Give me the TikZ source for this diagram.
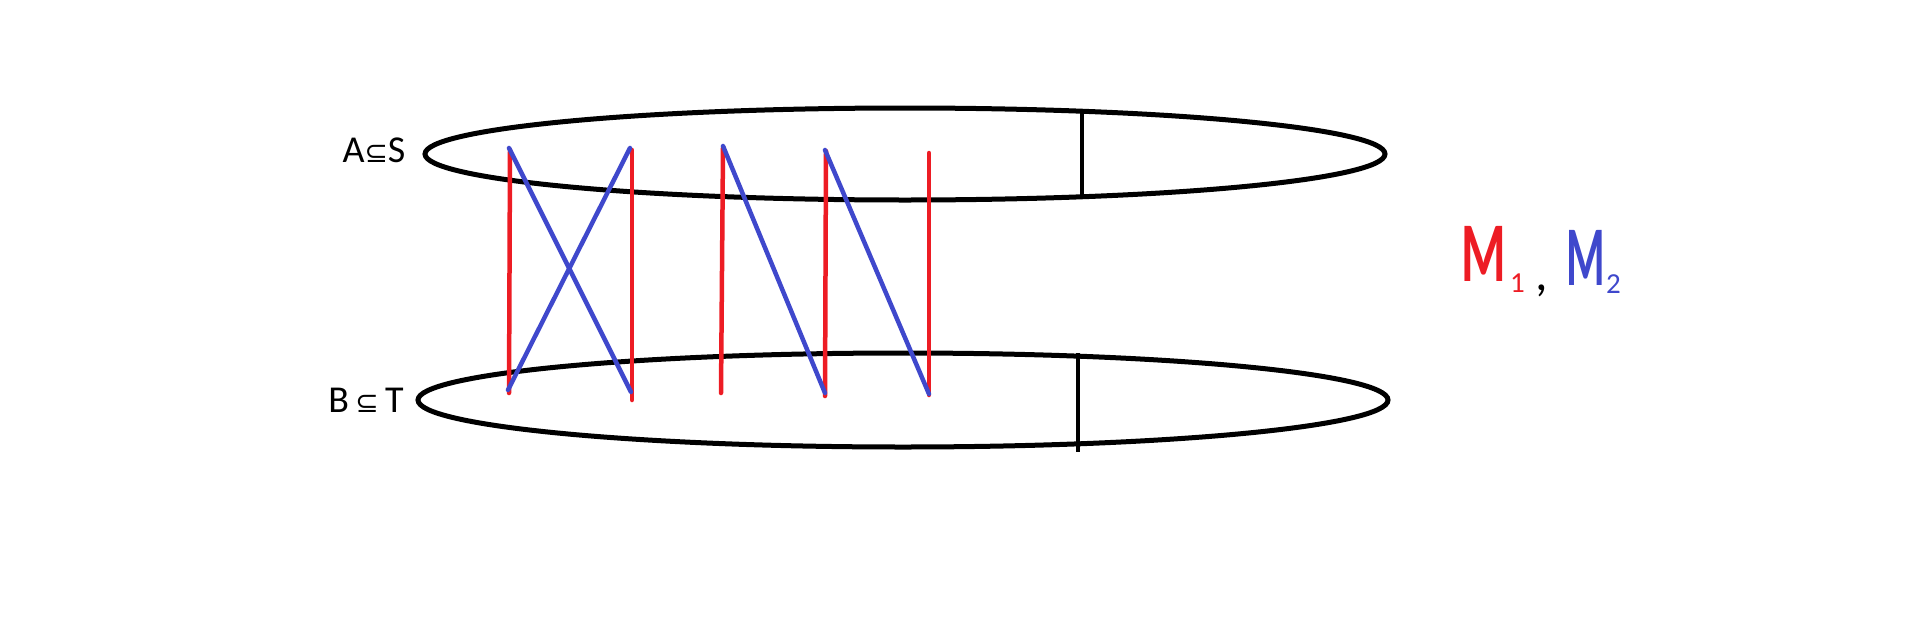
\documentclass[tikz,border=0pt]{standalone}
\usepackage{fontspec}
\setmainfont{Carlito}
\newfontfamily\symfont{DejaVu Sans}
\definecolor{pred}{RGB}{237,28,36}
\definecolor{pblue}{RGB}{63,72,204}
\tikzset{
  setline/.style={draw=black, line width=5pt},
  tickline/.style={draw=black, line width=4pt},
  redline/.style={draw=pred, line width=4.5pt, line cap=round},
  blueline/.style={draw=pblue, line width=4.5pt, line cap=round},
  lbl/.style={inner sep=0pt, font=\fontsize{38}{40}\selectfont},
  bigm/.style={inner sep=0pt, anchor=base west, font=\fontsize{85}{90}\selectfont\bfseries},
  subn/.style={inner sep=0pt, anchor=base west, font=\fontsize{29}{31}\selectfont},
}
\begin{document}
\begin{tikzpicture}[x=1pt,y=-1pt]
\useasboundingbox (0,0) rectangle (1911,632);
% sets
\draw[setline] (905,154) ellipse [x radius=480, y radius=46];
\draw[setline] (903,400) ellipse [x radius=485, y radius=47];
\coordinate (u1) at (1082,112); \coordinate (u2) at (1082,197);
\coordinate (l1) at (1078,353); \coordinate (l2) at (1078,452);
\draw[tickline] (u1) -- (u2);
\draw[tickline] (l1) -- (l2);
% labels
\node[lbl] (A) at (374,150) {A{\symfont\fontsize{28}{30}\selectfont ⊆}S};
\node[lbl] (B) at (366,400) {B\,{\symfont\fontsize{28}{30}\selectfont ⊆}\,T};
% endpoints
\coordinate (r1a) at (510,150); \coordinate (r1b) at (509,393);
\coordinate (r2a) at (632,150); \coordinate (r2b) at (632,400);
\coordinate (r3a) at (723,147); \coordinate (r3b) at (721,393);
\coordinate (r4a) at (826,151); \coordinate (r4b) at (825,396);
\coordinate (r5a) at (929,153); \coordinate (r5b) at (929,395);
\coordinate (b1a) at (509,148); \coordinate (b1b) at (631,392);
\coordinate (b2a) at (630,148); \coordinate (b2b) at (508,390);
\coordinate (b3a) at (723,146); \coordinate (b3b) at (825,393);
\coordinate (b4a) at (825,150); \coordinate (b4b) at (929,394);
% M1 (red)
\draw[redline] (r1a) -- (r1b);
\draw[redline] (r2a) -- (r2b);
\draw[redline] (r3a) -- (r3b);
\draw[redline] (r4a) -- (r4b);
\draw[redline] (r5a) -- (r5b);
% M2 (blue)
\draw[blueline] (b1a) -- (b1b);
\draw[blueline] (b2a) -- (b2b);
\draw[blueline] (b3a) -- (b3b);
\draw[blueline] (b4a) -- (b4b);
% legend
\node[bigm, text=pred, xscale=0.6] (M1) at (1461,281) {M};
\node[subn, text=pred] (s1) at (1510,292) {1};
\node[inner sep=0pt, anchor=base west, text=black,
      font=\fontsize{50}{52}\selectfont] (cm) at (1535,290) {,};
\node[bigm, text=pblue, xscale=0.52] (M2) at (1566,285) {M};
\node[subn, text=pblue] (s2) at (1606,293) {2};
\end{tikzpicture}
\end{document}
